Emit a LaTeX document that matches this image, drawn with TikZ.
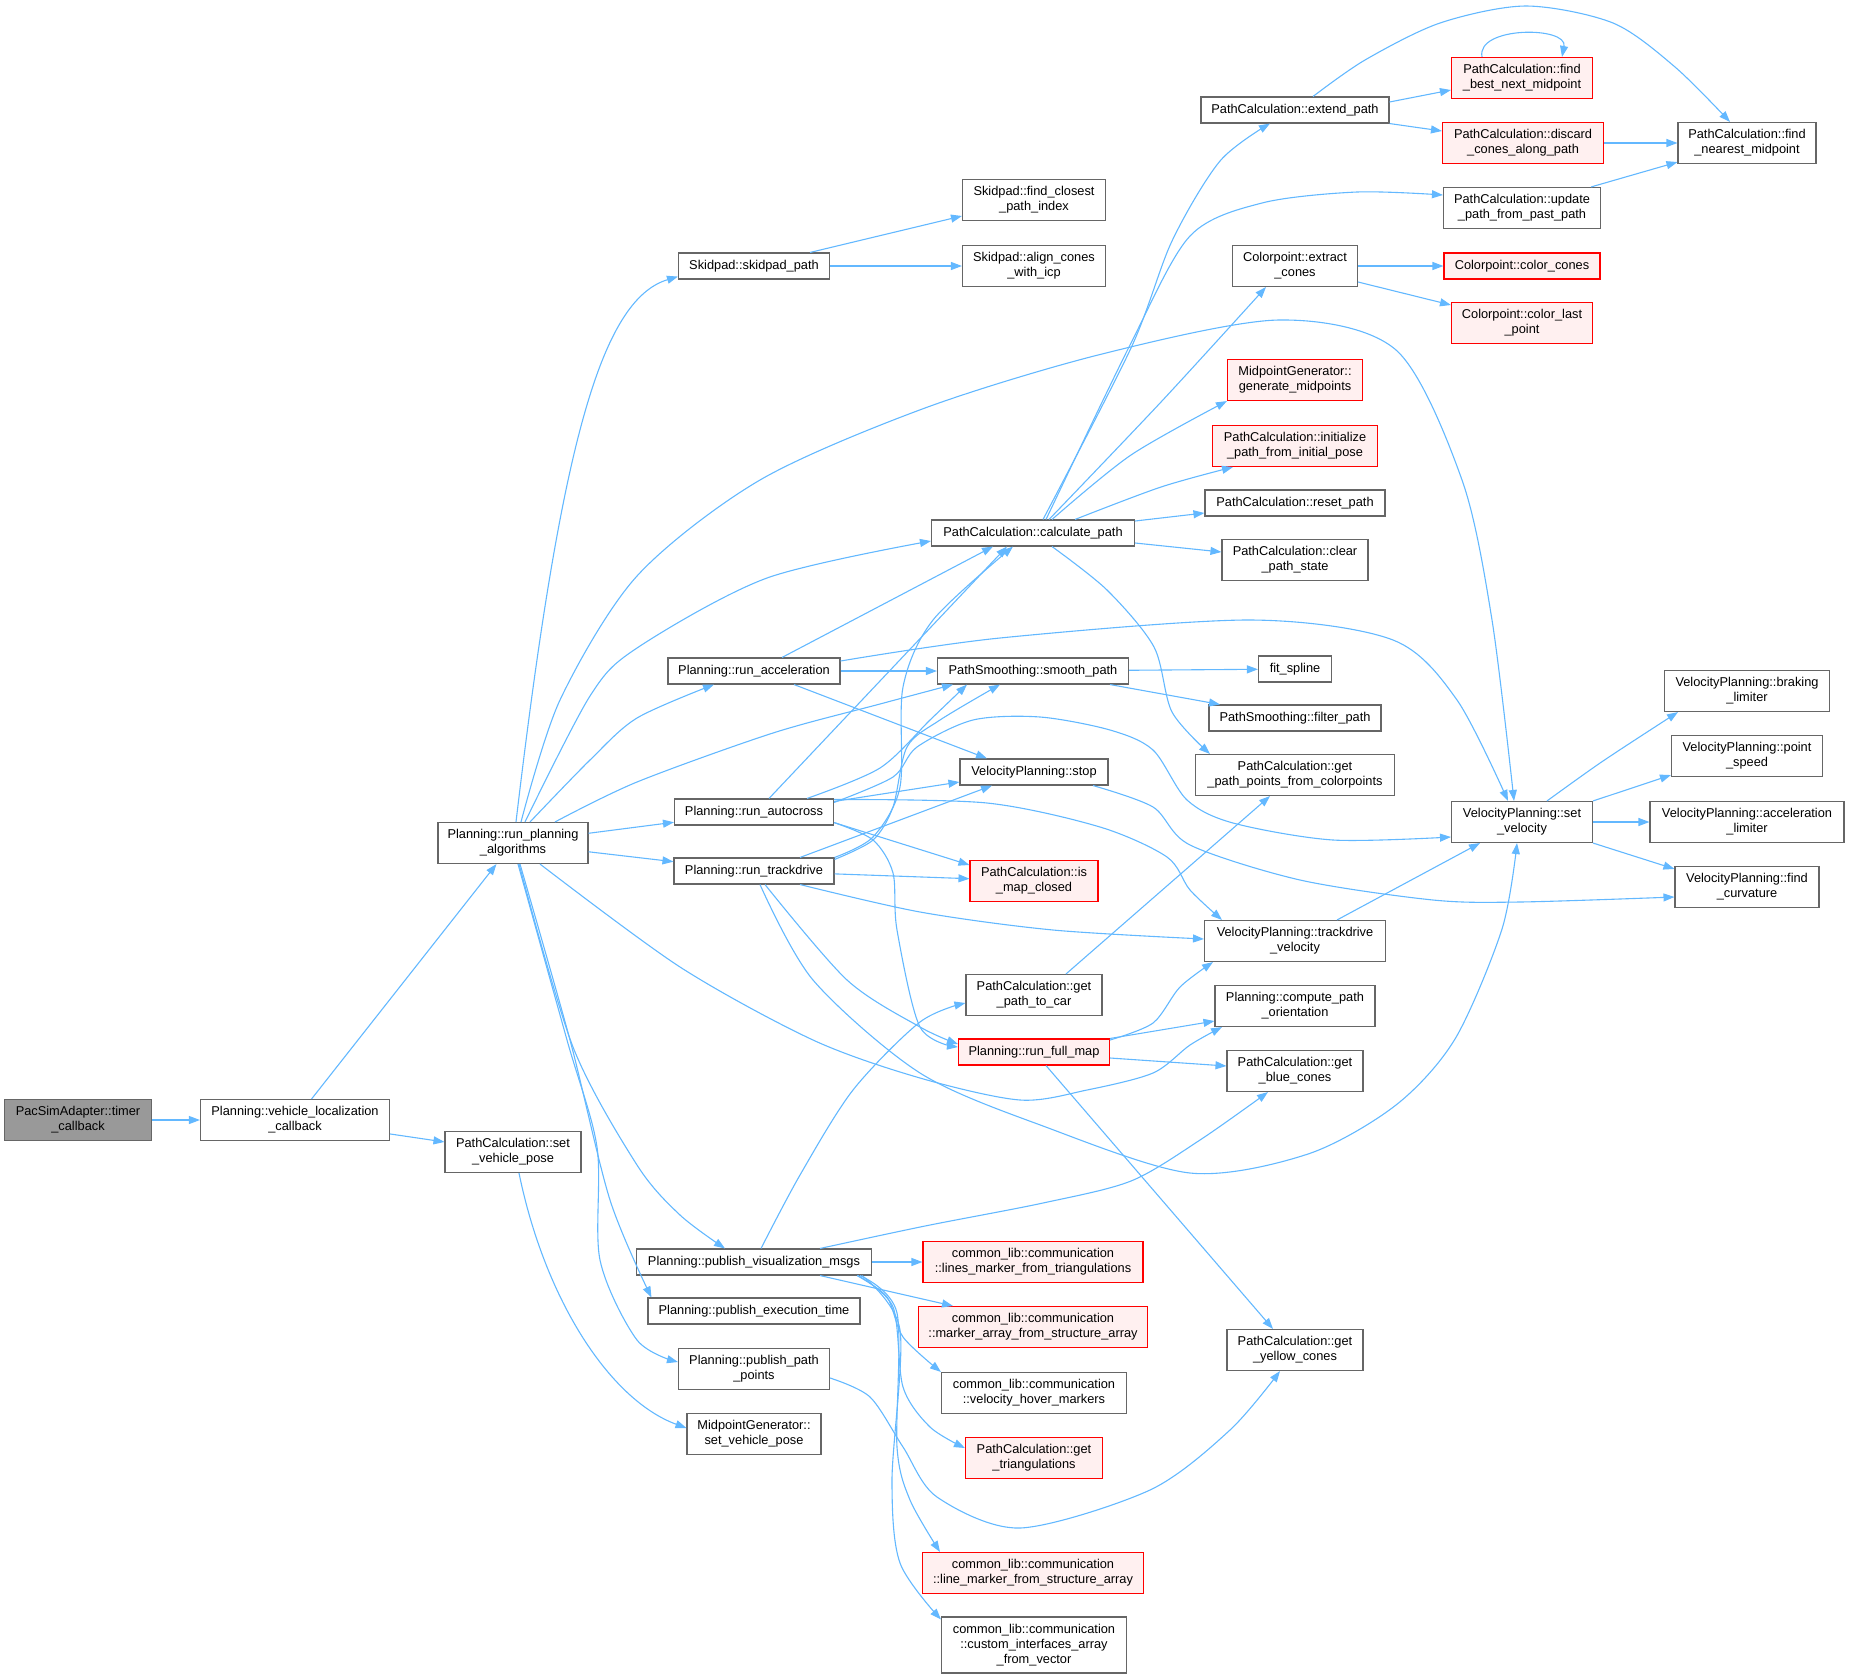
\documentclass[tikz,border=0pt]{standalone}
\usepackage{fontspec}
\setmainfont{Liberation Sans}
\usepackage{tikz}
\usetikzlibrary{arrows.meta}

\definecolor{edgeblue}{HTML}{63B8FF}
\definecolor{boxgray}{HTML}{666666}
\definecolor{grayfill}{HTML}{999999}
\definecolor{redline}{HTML}{FF0000}
\definecolor{redfill}{HTML}{FFF0F0}
\newcommand{\fnsize}{\fontsize{12.8}{15}\selectfont}

\begin{document}
\begin{tikzpicture}[x=1pt,y=-1pt,>={Triangle[length=11pt,width=8pt]},
  fn/.style={draw=boxgray,line width=1.1pt,fill=white,inner sep=0pt,align=center,font=\fnsize,minimum height=26},
  fnred/.style={fn,draw=redline,fill=redfill},
  fngray/.style={fn,fill=grayfill},
  two/.style={minimum height=41},
  three/.style={minimum height=56},
  edge/.style={->,draw=edgeblue,line width=1.1pt}]
\useasboundingbox (0,0) rectangle (1849,1678);

% callers
\node[fngray,two,minimum width=147] (timer) at (78,1120) {PacSimAdapter::timer\\\_callback};
\node[fn,two,minimum width=189] (vloc) at (295,1120) {Planning::vehicle\_localization\\\_callback};
\node[fn,two,minimum width=136] (pcsetpose) at (513,1152) {PathCalculation::set\\\_vehicle\_pose};
\node[fn,two,minimum width=150] (runplan) at (513,843) {Planning::run\_planning\\\_algorithms};

% planning modes
\node[fn,minimum width=151] (skid) at (754,266) {Skidpad::skidpad\_path};
\node[fn,minimum width=172] (runacc) at (754,671) {Planning::run\_acceleration};
\node[fn,minimum width=159] (runauto) at (754,812) {Planning::run\_autocross};
\node[fn,minimum width=160] (runtrack) at (754,871) {Planning::run\_trackdrive};
\node[fn,minimum width=235] (pubvis) at (754,1262) {Planning::publish\_visualization\_msgs};
\node[fn,minimum width=212] (pubexec) at (754,1311) {Planning::publish\_execution\_time};
\node[fn,two,minimum width=151] (pubpath) at (754,1369) {Planning::publish\_path\\\_points};
\node[fn,two,minimum width=134] (mgsetpose) at (754,1434) {MidpointGenerator::\\set\_vehicle\_pose};

% third column
\node[fn,two,minimum width=143] (findclosest) at (1034,200) {Skidpad::find\_closest\\\_path\_index};
\node[fn,two,minimum width=143] (aligncones) at (1034,266) {Skidpad::align\_cones\\\_with\_icp};
\node[fn,minimum width=203] (calc) at (1033,533) {PathCalculation::calculate\_path};
\node[fn,minimum width=191] (smooth) at (1033,671) {PathSmoothing::smooth\_path};
\node[fn,minimum width=148] (stop) at (1034,772) {VelocityPlanning::stop};
\node[fnred,two,minimum width=128] (ismap) at (1034,881) {PathCalculation::is\\\_map\_closed};
\node[fn,two,minimum width=136] (getpathcar) at (1034,995) {PathCalculation::get\\\_path\_to\_car};
\node[fnred,minimum width=151] (runfull) at (1034,1052) {Planning::run\_full\_map};
\node[fnred,two,minimum width=220] (linesmk) at (1033,1262) {common\_lib::communication\\::lines\_marker\_from\_triangulations};
\node[fnred,two,minimum width=229] (markarr) at (1033,1327) {common\_lib::communication\\::marker\_array\_from\_structure\_array};
\node[fn,two,minimum width=185] (velhover) at (1034,1393) {common\_lib::communication\\::velocity\_hover\_markers};
\node[fnred,two,minimum width=137] (gettri) at (1034,1458) {PathCalculation::get\\\_triangulations};
\node[fnred,two,minimum width=221] (linemk) at (1033,1573) {common\_lib::communication\\::line\_marker\_from\_structure\_array};
\node[fn,three,minimum width=185] (custom) at (1034,1645) {common\_lib::communication\\::custom\_interfaces\_array\\\_from\_vector};

% fourth column
\node[fn,minimum width=188] (extend) at (1295,110) {PathCalculation::extend\_path};
\node[fn,two,minimum width=125] (extract) at (1295,266) {Colorpoint::extract\\\_cones};
\node[fnred,two,minimum width=135] (genmid) at (1295,380) {MidpointGenerator::\\generate\_midpoints};
\node[fnred,two,minimum width=165] (initpath) at (1295,446) {PathCalculation::initialize\\\_path\_from\_initial\_pose};
\node[fn,minimum width=180] (reset) at (1295,503) {PathCalculation::reset\_path};
\node[fn,two,minimum width=146] (clear) at (1295,560) {PathCalculation::clear\\\_path\_state};
\node[fn,minimum width=73] (fitspline) at (1295,669) {fit\_spline};
\node[fn,minimum width=172] (filter) at (1295,718) {PathSmoothing::filter\_path};
\node[fn,two,minimum width=199] (getpts) at (1295,775) {PathCalculation::get\\\_path\_points\_from\_colorpoints};
\node[fn,two,minimum width=181] (tdvel) at (1295,941) {VelocityPlanning::trackdrive\\\_velocity};
\node[fn,two,minimum width=160] (compor) at (1295,1006) {Planning::compute\_path\\\_orientation};
\node[fn,two,minimum width=136] (blue) at (1295,1071) {PathCalculation::get\\\_blue\_cones};
\node[fn,two,minimum width=136] (yellow) at (1295,1350) {PathCalculation::get\\\_yellow\_cones};

% fifth column
\node[fnred,two,minimum width=141] (findbest) at (1522,78) {PathCalculation::find\\\_best\_next\_midpoint};
\node[fnred,two,minimum width=161] (discard) at (1523,143) {PathCalculation::discard\\\_cones\_along\_path};
\node[fn,two,minimum width=157] (update) at (1522,208) {PathCalculation::update\\\_path\_from\_past\_path};
\node[fnred,minimum width=156] (colorcones) at (1522,266) {Colorpoint::color\_cones};
\node[fnred,two,minimum width=141] (colorlast) at (1522,323) {Colorpoint::color\_last\\\_point};
\node[fn,two,minimum width=141] (setvel) at (1522,822) {VelocityPlanning::set\\\_velocity};

% last column
\node[fn,two,minimum width=138] (findnear) at (1747,143) {PathCalculation::find\\\_nearest\_midpoint};
\node[fn,two,minimum width=165] (braking) at (1747,691) {VelocityPlanning::braking\\\_limiter};
\node[fn,two,minimum width=151] (pointspd) at (1747,756) {VelocityPlanning::point\\\_speed};
\node[fn,two,minimum width=194] (acclim) at (1747,822) {VelocityPlanning::acceleration\\\_limiter};
\node[fn,two,minimum width=144] (findcurv) at (1747,887) {VelocityPlanning::find\\\_curvature};

% calls from the left part
\draw[edge] (timer) -- (vloc);
\draw[edge] (vloc) -- (runplan);
\draw[edge] (vloc) -- (pcsetpose);
\draw[edge] ([xshift=6]pcsetpose.south) .. controls (545,1300) and (610,1400) .. ([yshift=6]mgsetpose.west);

% calls from run_planning_algorithms
\draw[edge] ([xshift=3]runplan.north) .. controls (560,450) and (600,300) .. ([yshift=3]skid.south west);
\draw[edge] plot[smooth] coordinates {([xshift=8]runplan.north) (560,700) (637,576) (760,480) (925,408) (1102,354) (1279,320) (1396,350) (1462,480) (1492,620) ([xshift=-8]setvel.north)};
\draw[edge] plot[smooth] coordinates {([xshift=12]runplan.north) (590,696) (637,648) (767,578) ([yshift=-8]calc.west)};
\draw[edge] plot[smooth] coordinates {([xshift=17]runplan.north) (590,760) (637,718) ([xshift=-40]runacc.south)};
\draw[edge] plot[smooth] coordinates {([xshift=42]runplan.north) (637,782) (773,733) (880,704) ([xshift=-80]smooth.south)};
\draw[edge] (runplan) -- (runauto);
\draw[edge] (runplan) -- (runtrack);
\draw[edge] plot[smooth] coordinates {([xshift=27]runplan.south) (680,967) (813,1040) (920,1078) (1020,1100) (1087,1090) (1153,1073) (1190,1045) ([xshift=-73]compor.south)};
\draw[edge] plot[smooth] coordinates {([xshift=6]runplan.south) (573,1047) (637,1165) (680,1215) ([xshift=-29]pubvis.north)};
\draw[edge] plot[smooth] coordinates {([xshift=7]runplan.south) (570,1040) (610,1200) ([xshift=4]pubexec.north west)};
\draw[edge] plot[smooth] coordinates {([xshift=5]runplan.south) (567,1040) (597,1147) (600,1260) (637,1340) ([yshift=7]pubpath.west)};

% run_acceleration
\draw[edge] ([xshift=28]runacc.north) -- ([xshift=-40]calc.south);
\draw[edge] (runacc) -- (smooth);
\draw[edge] ([xshift=40]runacc.south) -- ([xshift=-47]stop.north);
\draw[edge] plot[smooth] coordinates {([yshift=10]runacc.east) (1000,638) (1250,620) (1393,640) (1457,700) ([xshift=-14]setvel.north)};

% run_autocross
\draw[edge] ([xshift=15]runauto.north) -- ([xshift=-26]calc.south);
\draw[edge] plot[smooth] coordinates {([xshift=53]runauto.north) (880,768) (930,720) ([xshift=-66]smooth.south)};
\draw[edge] ([yshift=-3]runauto.north east) -- ([yshift=-10]stop.west);
\draw[edge] ([yshift=3]runauto.south east) -- ([yshift=16]ismap.west);
\draw[edge] plot[smooth] coordinates {([yshift=-1]runauto.north east) (987,803) (1100,827) (1167,857) (1190,890) ([xshift=-73]tdvel.north)};
\draw[edge] plot[smooth] coordinates {([yshift=-4]runauto.north east) (893,777) (917,747) (973,720) (1040,717) (1110,730) (1153,750) (1187,800) (1233,823) (1333,840) ([yshift=-15]setvel.west)};
\draw[edge] plot[smooth] coordinates {([yshift=3]runauto.south east) (873,840) (893,873) (897,930) (920,1027) ([yshift=5]runfull.west)};

% run_trackdrive
\draw[edge] plot[smooth] coordinates {(runtrack.north east) (873,837) (900,787) (903,687) (933,620) ([xshift=-20]calc.south)};
\draw[edge] plot[smooth] coordinates {([yshift=-2]runtrack.north east) (873,840) (893,807) (907,747) (940,720) ([xshift=-33]smooth.south)};
\draw[edge] ([xshift=46]runtrack.north) -- ([xshift=-42]stop.south);
\draw[edge] (runtrack) -- (ismap);
\draw[edge] plot[smooth] coordinates {([xshift=46]runtrack.south) (920,912) (1053,930) ([yshift=2]tdvel.west)};
\draw[edge] plot[smooth] coordinates {([xshift=11]runtrack.south) (847,980) (920,1027) ([yshift=8]runfull.west)};
\draw[edge] plot[smooth] coordinates {([xshift=6]runtrack.south) (813,980) (920,1073) (1043,1126) (1190,1173) (1308,1154) (1396,1105) (1455,1039) (1502,929) ([xshift=-5]setvel.south)};

% run_full_map
\draw[edge] plot[smooth] coordinates {([yshift=12]runfull.east) (1153,1023) (1180,987) ([xshift=-82]tdvel.south)};
\draw[edge] (runfull.north east) -- ([yshift=6]compor.south west);
\draw[edge] ([yshift=-6]runfull.east) -- ([yshift=5]blue.west);
\draw[edge] ([xshift=12]runfull.south) -- ([xshift=-22]yellow.north);

% publishers
\draw[edge] plot[smooth] coordinates {([xshift=7]pubvis.north) (800,1175) (853,1090) (920,1022) ([yshift=-8]getpathcar.west)};
\draw[edge] plot[smooth] coordinates {([xshift=66]pubvis.north) (925,1226) (1043,1203) (1131,1181) (1200,1140) ([xshift=-27]blue.south)};
\draw[edge] (pubvis) -- (linesmk);
\draw[edge] ([xshift=66]pubvis.south) -- ([xshift=-80]markarr.north);
\draw[edge] plot[smooth] coordinates {([xshift=103]pubvis.south) (887,1297) (903,1337) (velhover.north west)};
\draw[edge] plot[smooth] coordinates {([xshift=104]pubvis.south) (893,1307) (903,1387) (930,1427) ([yshift=10]gettri.west)};
\draw[edge] plot[smooth] coordinates {([xshift=106]pubvis.south) (897,1313) (897,1447) (910,1500) ([xshift=-93]linemk.north)};
\draw[edge] plot[smooth] coordinates {([xshift=108]pubvis.south) (900,1330) (892,1480) (900,1563) ([yshift=-3]custom.north west)};
\draw[edge] plot[smooth] coordinates {([yshift=-9]pubpath.east) (870,1397) (903,1447) (937,1497) (1020,1528) (1150,1490) (1230,1430) ([xshift=-15]yellow.south)};

% calculate_path
\draw[edge] plot[smooth] coordinates {([xshift=10]calc.north) (1131,348) (1172,241) (1220,161) ([xshift=-25]extend.south)};
\draw[edge] plot[smooth] coordinates {([xshift=13]calc.north) (1131,343) (1190,236) (1262,203) (1357,192) ([yshift=13]update.west)};
\draw[edge] plot[smooth] coordinates {([xshift=16]calc.north) (1161,402) ([xshift=-29]extract.south)};
\draw[edge] plot[smooth] coordinates {([xshift=19]calc.north) (1131,455) (genmid.south west)};
\draw[edge] plot[smooth] coordinates {([xshift=42]calc.north) (1161,487) ([xshift=-62]initpath.south)};
\draw[edge] ([yshift=12]calc.east) -- ([yshift=-10]reset.west);
\draw[edge] ([yshift=-10]calc.east) -- ([yshift=8]clear.west);
\draw[edge] plot[smooth] coordinates {([xshift=19]calc.south) (1107,590) (1154,647) (1172,712) ([xshift=-85]getpts.north)};

% extend_path and friends
\draw[edge] ([yshift=8]extend.east) -- ([yshift=-12]findbest.west);
\draw[edge] (extend.south east) -- ([yshift=12]discard.west);
\draw[edge] plot[smooth] coordinates {([xshift=18]extend.north) (1365,60) (1440,23) (1526,6) (1613,23) (1675,67) ([xshift=-17]findnear.north)};
\draw[edge] ([xshift=-40]findbest.north) .. controls (1476,26) and (1568,26) .. ([xshift=40]findbest.north);
\draw[edge] (discard) -- (findnear);
\draw[edge] ([xshift=-10]update.north east) -- ([yshift=2]findnear.south west);

% the rest
\draw[edge] ([xshift=56]skid.north) -- ([yshift=-16]findclosest.west);
\draw[edge] (skid) -- (aligncones);
\draw[edge] (extract) -- (colorcones);
\draw[edge] ([yshift=-16]extract.east) -- ([yshift=18]colorlast.west);
\draw[edge] (smooth) -- (fitspline);
\draw[edge] ([xshift=77]smooth.south) -- ([xshift=-75]filter.north);
\draw[edge] plot[smooth] coordinates {([xshift=59]stop.south) (1153,807) (1190,845) (1300,880) (1433,900) (1520,902) ([yshift=-10]findcurv.west)};
\draw[edge] plot[smooth] coordinates {([xshift=25]setvel.north) (1603,761) ([xshift=-69]braking.south)};
\draw[edge] (setvel.north east) -- ([yshift=2]pointspd.south west);
\draw[edge] (setvel) -- (acclim);
\draw[edge] (setvel.south east) -- ([yshift=-3]findcurv.north west);
\draw[edge] ([xshift=42]tdvel.north) -- ([xshift=-42]setvel.south);
\draw[edge] ([xshift=32]getpathcar.north) -- ([xshift=-25]getpts.south);
\end{tikzpicture}
\end{document}
